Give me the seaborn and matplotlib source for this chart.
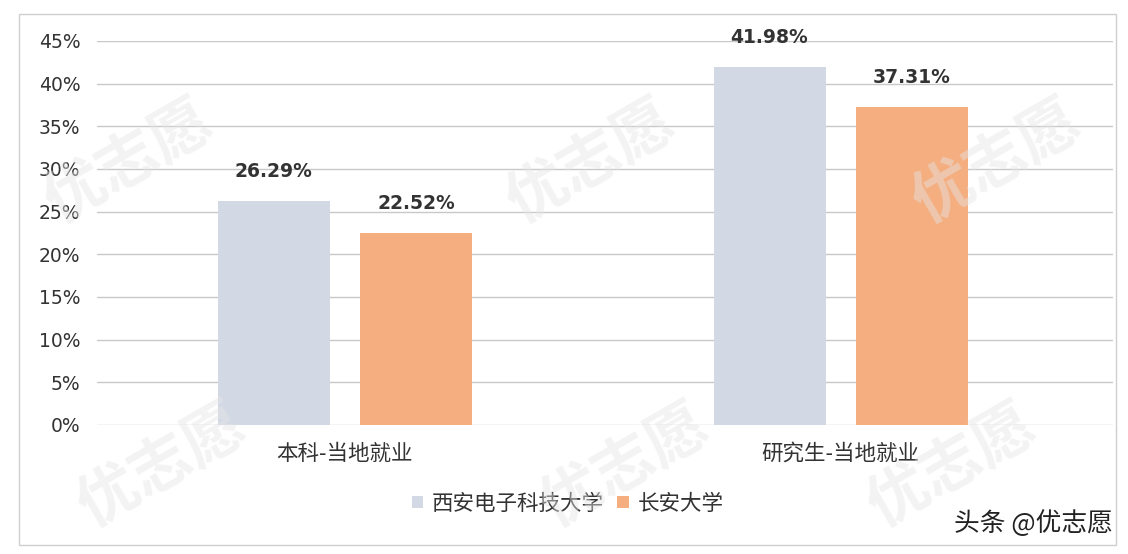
import numpy as np
import pandas as pd
import matplotlib
matplotlib.use('Agg')
import matplotlib.pyplot as plt
import seaborn as sns
from matplotlib.patches import Rectangle

# =============================================================
# DATA
# =============================================================
categories = ['本科-当地就业', '研究生-当地就业']
schools    = ['西安电子科技大学', '长安大学']
xidian     = [26.29, 41.98]
changan    = [22.52, 37.31]
yticks     = [0, 5, 10, 15, 20, 25, 30, 35, 40, 45]

COLORS = ['#D3D9E4', '#F4AE80']

df = pd.DataFrame({
    'category': categories * 2,
    'school':   [schools[0]] * 2 + [schools[1]] * 2,
    'value':    xidian + changan,
})

# =============================================================
# PLOT
# =============================================================
sns.set_theme(style='white')
plt.rcParams['font.family'] = ['Noto Sans CJK SC', 'DejaVu Sans']

fig = plt.figure(figsize=(11.28, 5.54), dpi=100)
ax = fig.add_axes([0.086, 0.233, 0.901, 0.693])

# outer border
fig.patches.append(Rectangle((0.017, 0.017), 0.972, 0.958, transform=fig.transFigure,
                             fill=False, edgecolor='#CFCFCF', linewidth=1.0))

# watermarks
for (wx, wy) in [(0.03, 0.60), (0.44, 0.60), (0.80, 0.60), (0.06, 0.05), (0.47, 0.05), (0.76, 0.05)]:
    fig.text(wx, wy, '优志愿', fontsize=44, color='#E6E6E6', rotation=30,
             alpha=0.45, zorder=0, fontweight='bold')

sns.barplot(data=df, x='category', y='value', hue='school', palette=COLORS,
            width=0.574, gap=0.213, ax=ax, zorder=3, saturation=1,
            edgecolor='none')

ax.set_xlim(-0.5, 1.55)
ax.set_ylim(0, 45)
ax.set_yticks(yticks)
ax.set_yticklabels([f'{t}%' for t in yticks], fontsize=13.5, color='#333333',
                   family='DejaVu Sans')
ax.tick_params(axis='y', pad=12, length=0)
ax.tick_params(axis='x', pad=13, length=0, labelsize=15.5, labelcolor='#333333')
ax.yaxis.grid(True, color='#C8C8C8', linewidth=1.0, zorder=0)
ax.set_axisbelow(True)
for s in ax.spines.values():
    s.set_visible(False)
ax.set_xlabel('')
ax.set_ylabel('')
ax.patch.set_alpha(0)

for cont in ax.containers:
    for bar in cont:
        h = bar.get_height()
        ax.text(bar.get_x() + bar.get_width() / 2, h + 3.4, f'{h:.2f}%',
                ha='center', va='center', fontsize=13.5, fontweight='bold',
                color='#333333', zorder=5, family='DejaVu Sans')

leg = ax.legend(loc='center', bbox_to_anchor=(0.463, -0.205), ncol=2, frameon=False,
                fontsize=15.5, handlelength=0.55, handleheight=0.55,
                handletextpad=0.4, columnspacing=0.6)
for t in leg.get_texts():
    t.set_color('#333333')

fig.text(0.987, 0.055, '头条 @优志愿', fontsize=18.5, color='#222222',
         ha='right', va='center')

fig.savefig('out.png', dpi=100)
